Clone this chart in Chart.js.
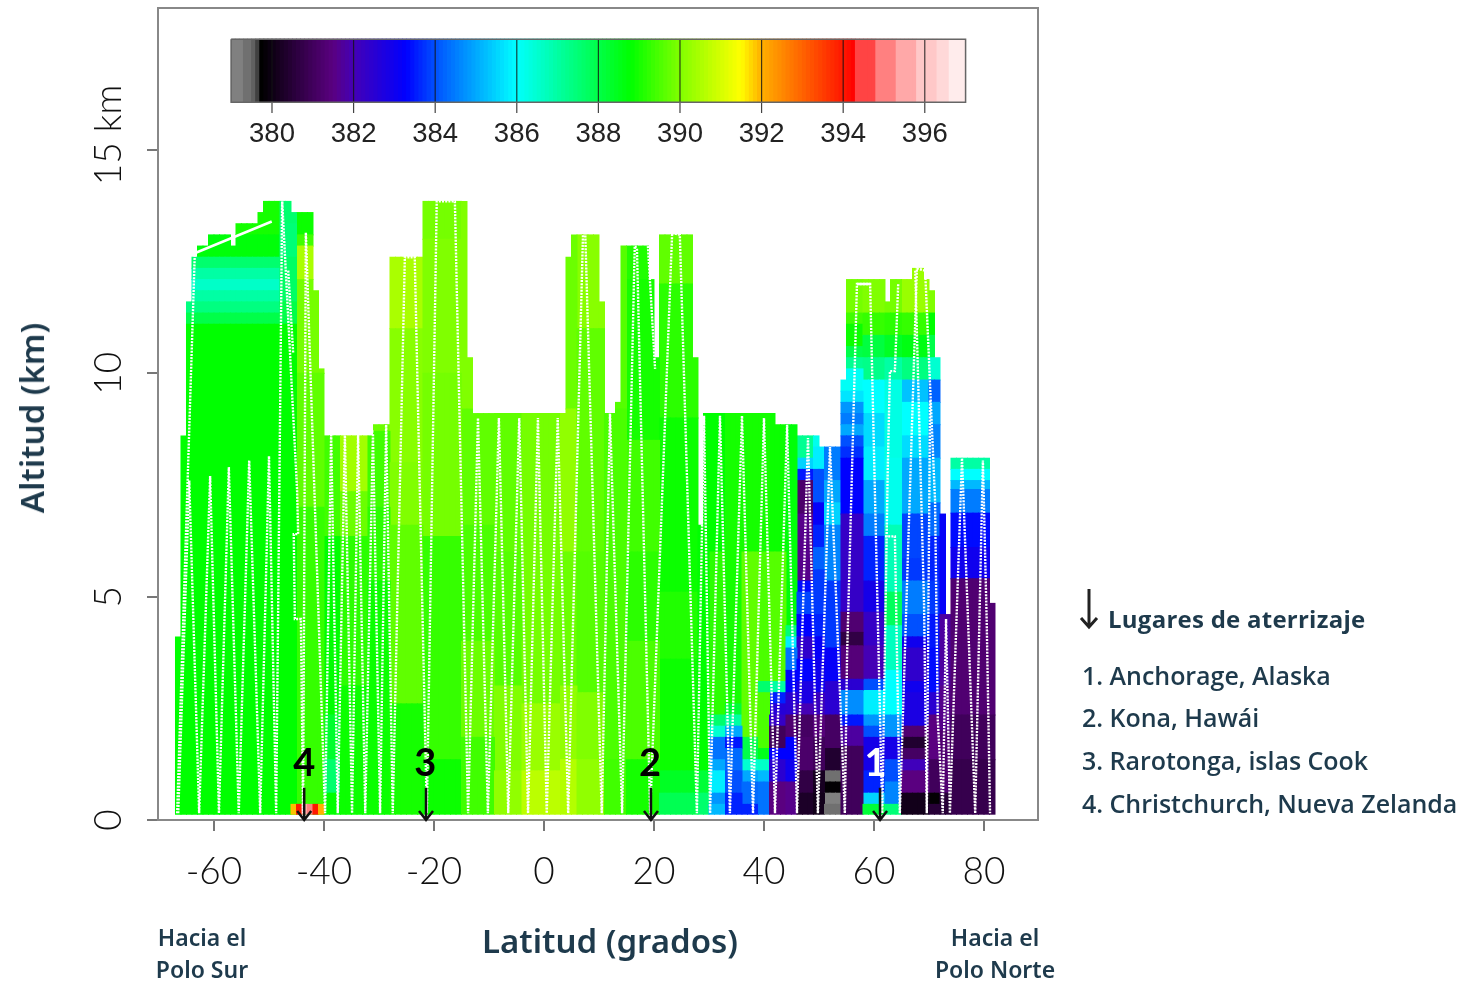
<!DOCTYPE html>
<html lang="es">
<head>
<meta charset="UTF-8">
<title>Altitud y latitud</title>
<script src="https://cdn.jsdelivr.net/npm/chart.js"></script>
<style>
    html, body { margin: 0; padding: 0; background: #fff; }
    #wrap { position: relative; width: 1468px; height: 982px; overflow: hidden; color: #1e3a4c; font-family: "Noto Sans", sans-serif; }
    canvas { position: absolute; left: 0; top: 0; }
    .t { position: absolute; white-space: nowrap; }
    .polo { font-size: 23px; line-height: 32px; text-align: center; width: 160px; font-weight: 600; }
    .axis { font-size: 33px; font-weight: 600; line-height: 40px; }
    .item { font-family: "Open Sans", sans-serif; font-size: 25px; font-weight: 600; line-height: 30px; left: 1082px; letter-spacing: -0.03px; }
</style>
</head>
<body>
<div id="wrap">
    <canvas id="grafico" width="1468" height="982"></canvas>
    <div class="t axis" style="left:482px; top:921px;">Latitud (grados)</div>
    <div class="t axis" style="left:32px; top:418px; transform: translate(-50%, -50%) rotate(-90deg);">Altitud (km)</div>
    <div class="t polo" style="left:122px; top:921px;">Hacia el<br>Polo Sur</div>
    <div class="t polo" style="left:915px; top:921px;">Hacia el<br>Polo Norte</div>
    <svg class="t" style="left:1078px; top:586px;" width="24" height="46">
        <path d="M11 3 V41 M3 32 L11 41 L19 32" fill="none" stroke="#222" stroke-width="3"/>
    </svg>
    <div class="t item" style="left:1108px; top:604px; font-size:24px; font-weight:700; letter-spacing:0.25px;">Lugares de aterrizaje</div>
    <div class="t item" style="top:660px;">1. Anchorage, Alaska</div>
    <div class="t item" style="top:702px;">2. Kona, Hawái</div>
    <div class="t item" style="top:745px;">3. Rarotonga, islas Cook</div>
    <div class="t item" style="top:788px;">4. Christchurch, Nueva Zelanda</div>
</div>
<script>
    // ejes
    const xTickValues = [-60, -40, -20, 0, 20, 40, 60, 80];
    const yTickValues = [0, 5, 10, 15];
    const barTickValues = [380, 382, 384, 386, 388, 390, 392, 394, 396];

    // columnas de la cortina: latitud central y altitud del tope (km)
    const colLat = [
        -66.5, -65.5, -64.5, -63.5, -62.5, -61.5, -60.5, -59.5, -58.5, -57.5,
        -56.5, -55.5, -54.5, -53.5, -52.5, -51.5, -50.5, -49.5, -48.5, -47.5,
        -46.5, -45.5, -44.5, -43.5, -42.5, -41.5, -40.5, -39.5, -38.5, -37.5,
        -36.5, -35.5, -34.5, -33.5, -32.5, -31.5, -30.5, -29.5, -28.5, -27.5,
        -26.5, -25.5, -24.5, -23.5, -22.5, -21.5, -20.5, -19.5, -18.5, -17.5,
        -16.5, -15.5, -14.5, -13.5, -12.5, -11.5, -10.5, -9.5, -8.5, -7.5,
        -6.5, -5.5, -4.5, -3.5, -2.5, -1.5, -0.5, 0.5, 1.5, 2.5,
        3.5, 4.5, 5.5, 6.5, 7.5, 8.5, 9.5, 10.5, 11.5, 12.5,
        13.5, 14.5, 15.5, 16.5, 17.5, 18.5, 19.5, 20.5, 21.5, 22.5,
        23.5, 24.5, 25.5, 26.5, 27.5, 28.5, 29.5, 30.5, 31.5, 32.5,
        33.5, 34.5, 35.5, 36.5, 37.5, 38.5, 39.5, 40.5, 41.5, 42.5,
        43.5, 44.5, 45.5, 46.5, 47.5, 48.5, 49.5, 50.5, 51.5, 52.5,
        53.5, 54.5, 55.5, 56.5, 57.5, 58.5, 59.5, 60.5, 61.5, 62.5,
        63.5, 64.5, 65.5, 66.5, 67.5, 68.5, 69.5, 70.5, 71.5, 72.5,
        73.5, 74.5, 75.5, 76.5, 77.5, 78.5, 79.5, 80.5, 81.5
    ];
    const colTop = [
        4.1, 8.6, 11.6, 12.6, 12.85, 12.85, 13.1, 13.1, 13.1, 13.1,
        12.85, 13.35, 13.35, 13.35, 13.35, 13.6, 13.85, 13.85, 13.85, 13.85,
        13.85, 13.6, 13.6, 13.6, 13.6, 11.85, 10.1, 8.6, 8.6, 8.6,
        8.6, 8.6, 8.6, 8.6, 8.6, 8.6, 8.85, 8.85, 8.85, 12.6,
        12.6, 12.6, 12.6, 12.6, 12.6, 13.85, 13.85, 13.85, 13.85, 13.85,
        13.85, 13.85, 13.85, 10.35, 9.1, 9.1, 9.1, 9.1, 9.1, 9.1,
        9.1, 9.1, 9.1, 9.1, 9.1, 9.1, 9.1, 9.1, 9.1, 9.1,
        9.1, 12.6, 13.1, 13.1, 13.1, 13.1, 13.1, 11.6, 9.1, 9.1,
        9.35, 12.85, 12.85, 12.85, 12.85, 12.85, 12.1, 10.35, 13.1, 13.1,
        13.1, 13.1, 13.1, 13.1, 10.35, 6.6, 9.1, 9.1, 9.1, 9.1,
        9.1, 9.1, 9.1, 9.1, 9.1, 9.1, 9.1, 9.1, 9.1, 8.85,
        8.85, 8.85, 8.85, 8.6, 8.6, 8.6, 8.6, 8.35, 8.35, 8.35,
        8.35, 9.85, 12.1, 12.1, 12.1, 12.1, 12.1, 12.1, 12.1, 11.6,
        12.1, 12.1, 12.1, 12.1, 12.35, 12.35, 12.1, 11.85, 10.35, 6.85,
        4.6, 8.1, 8.1, 8.1, 8.1, 8.1, 8.1, 8.1, 4.85
    ];
    const baseAlt = 0.13;

    // CO2 (ppm) por tramos de latitud: [tope km, valor] desde el suelo hacia arriba
    const fieldFrom = [-67, -48, -45, -40, -37, -32, -28, -22, -15, -9, -4, 3, 6, 11, 15, 21, 28, 30, 33, 36, 39, 41, 44, 46, 49, 51, 54, 58, 62, 65, 70, 72, 74];
    const fieldProfiles = [
        [[11.1, 388.8], [11.35, 388], [11.6, 387.4], [11.85, 387], [12.1, 386.6], [12.35, 387], [12.6, 387.6], [13.1, 388.7], [14, 389]],
        [[11.1, 388.8], [11.6, 388], [12.6, 387.7], [13.35, 387.5], [14, 387.6]],
        [[0.35, 389], [7, 389.3], [10, 389.7], [12.1, 389.9], [12.85, 390.5], [13.1, 389.4], [14, 388.9]],
        [[0.6, 388.8], [1.35, 387.6], [2.35, 388.3], [6.35, 388.8], [8.7, 389.4]],
        [[3, 388.9], [6.35, 389.2], [7.35, 389.8], [8.7, 390.4]],
        [[5.35, 388.9], [7, 389.2], [8.7, 389.4], [14, 389.8]],
        [[2.6, 389], [6.6, 389.7], [8, 390], [11, 390.1], [12.6, 390.5]],
        [[1.35, 388.9], [6.35, 389.3], [10, 389.9], [13, 390], [14, 389.9]],
        [[1.85, 389.4], [4, 389.8], [6.6, 389.5], [9.2, 389.7], [14, 390]],
        [[1.1, 390.2], [3, 390], [6, 389.6], [9.2, 389.7]],
        [[1.1, 390.7], [2.6, 390.3], [4, 389.9], [9.2, 389.9]],
        [[1.35, 390.6], [3, 390.2], [6, 389.8], [9.2, 390.2], [13.2, 389.8]],
        [[1.35, 390.2], [2.85, 390], [6, 389.6], [9.2, 389.7], [11, 389.7], [13.2, 390.1]],
        [[1.35, 389.4], [3, 389.5], [9.2, 389.5], [13.2, 389.6]],
        [[1.35, 389], [4, 389.5], [6, 389.2], [8.5, 389.4], [10.5, 389], [12.1, 389], [13.2, 389.1]],
        [[0.6, 387.9], [1.1, 388.4], [3.6, 388.9], [5.1, 389.1], [9, 388.9], [12, 389.2], [13.2, 389.7]],
        [[0.6, 387.6], [1.1, 388.2], [9.2, 388.8]],
        [[0.35, 385.2], [0.6, 384.8], [1.1, 385.8], [1.35, 385], [1.85, 384.4], [2.1, 386.5], [2.35, 387.6], [6, 389.2], [9.2, 388.8]],
        [[0.6, 383.6], [1.1, 384], [1.6, 384.3], [1.85, 383.5], [2.1, 385], [2.35, 387], [2.6, 388.2], [9.2, 389]],
        [[0.35, 383.6], [0.85, 384.3], [1.1, 385], [1.35, 386.5], [1.85, 388], [6, 389.7], [9.2, 389]],
        [[0.85, 384.4], [1.1, 385.2], [1.35, 386.6], [1.6, 388.5], [2.85, 389.5], [3.1, 387.6], [6, 389.5], [9.2, 389]],
        [[0.85, 381.5], [1.35, 382.5], [1.6, 383.3], [2.1, 381], [2.35, 382.3], [2.6, 382.6], [2.85, 383.6], [3.1, 387], [6, 389.6], [9.2, 388.9]],
        [[0.85, 381.6], [1.35, 383], [1.85, 383.3], [2.35, 381.3], [2.85, 382.5], [3.35, 383.3], [3.85, 384.4], [4.1, 385.8], [4.35, 387.5], [9, 388.7]],
        [[0.6, 380.3], [1.1, 380.7], [1.85, 381.2], [2.35, 381.1], [2.6, 382], [3.1, 382.8], [3.6, 383.3], [4.1, 382.4], [4.6, 383.3], [5.1, 383.9], [5.35, 383.4], [6.85, 381.6], [7.6, 381.2], [7.85, 383.5], [8.1, 385.5], [8.7, 387.2]],
        [[0.6, 380.1], [1.1, 380.2], [1.85, 381], [2.35, 381.4], [2.85, 382.2], [3.6, 383], [4.1, 383.2], [4.6, 383.6], [5.6, 383.8], [6.1, 384.2], [6.6, 383.6], [7.1, 383.2], [7.85, 384], [8.35, 385.8], [8.7, 386.2]],
        [[0.35, 379.3], [0.6, 379.2], [0.85, 379.8], [1.1, 379.3], [1.6, 380.4], [2.35, 381.1], [3.1, 382.5], [3.85, 383.2], [5.35, 383.8], [6.6, 384.6], [7.1, 385.5], [7.6, 385], [8.5, 384.5]],
        [[1.65, 381], [2.1, 381.8], [2.35, 383.5], [2.9, 384.7], [3.15, 382.5], [3.9, 381.4], [4.2, 380.7], [4.65, 381.3], [6.85, 382.3], [8.1, 383.3], [8.35, 383.7], [8.6, 384], [8.85, 385], [9.1, 384.5], [9.35, 384.8], [9.6, 385.7], [10.1, 386.1], [10.35, 387.2], [10.6, 388], [11.1, 388.9], [11.35, 389.4], [12.2, 389.9]],
        [[0.35, 388.2], [0.6, 385.5], [1.1, 383.6], [1.85, 382.9], [2.1, 384], [2.35, 384.8], [2.9, 385.8], [3.15, 384], [3.9, 382], [4.65, 382.3], [5.35, 382.9], [6.35, 383.6], [6.85, 384.5], [7.6, 385], [8.35, 385.8], [9.1, 385.6], [9.85, 386], [10.35, 387.3], [10.85, 388.1], [11.35, 389.3], [12.2, 390]],
        [[0.35, 387.5], [0.85, 384.6], [1.35, 384], [1.85, 382.9], [2.35, 384.8], [3.35, 386], [4.35, 386.7], [5.1, 387.8], [6.6, 386.8], [8.1, 386.2], [9.85, 386.3], [10.35, 387], [10.85, 388.4], [11.35, 389.2], [12.2, 389.9]],
        [[0.6, 380.1], [1.1, 381.5], [1.35, 382.1], [1.6, 381.1], [1.85, 380.4], [2.1, 381.3], [2.85, 382.8], [3.1, 383], [3.85, 382.4], [4.1, 383], [4.6, 384], [5.35, 384.5], [5.85, 383.8], [6.85, 383.9], [8.1, 385], [8.6, 385.6], [9.35, 386], [9.85, 385.3], [10.35, 387.4], [10.85, 388.6], [11.35, 389.3], [12.4, 390.3]],
        [[0.35, 380.5], [0.6, 379.8], [1.35, 381], [2.35, 381.5], [2.85, 382.5], [3.85, 383.4], [4.6, 383.5], [5.35, 383.8], [6.35, 383.6], [7.1, 384.3], [8.1, 385.2], [8.85, 384.6], [9.35, 385], [9.85, 384.2], [10.35, 386.5], [10.85, 388], [11.35, 388.8], [12.4, 390]],
        [[0.6, 380.5], [2, 381.3], [3, 381.6], [4.6, 381.8], [6.85, 383.2]],
        [[1.35, 380.8], [2.35, 381], [5.4, 381.3], [6.1, 383], [6.87, 383.4], [7.4, 384.5], [7.6, 385.2], [7.85, 386], [8.2, 387]]
    ];

    // mancha caliente sobre Christchurch
    const hotLat = [-45.5, -44.5, -43.5, -42.5, -41.5, -40.5];
    const hotValue = [391.9, 393.9, 395.5, 395, 394, 392];
    const hotTop = 0.35;

    // trayectoria del avion, null corta la linea
    const flightLat = [
        -66.5, -64.5, -62.7, -60.7, -59.1, -57.3, -55.5, -53.6, -51.6, -50, -48.7, -47.6, -44.9, -44.7, -45.5, -45.3, -44.2, -43.8, -43.3, -39.8,
        -38.7, -37.5, -36.2, -34.9, -33.8, -32.5, -31.1, -29.8, -28.7, -27.5, -25.3, -23.5, -21.3, -19.5, -16.2, -13.8, -12, -10.2, -8.2, -6.5,
        -4.5, -2.9, -1.1, 0.5, 2.5, 4.4, 7.1, 7.5, 10.5, 12, 14.2, 16.5, 16.9, 19.3, 23.3, 24.7, 27.8, 29.1, 30.2, 32,
        33.8, 36, 38, 40, 42, 44.2, 46, 48, 49.8, 52, 54.7, 55.1, 56.9, 59.3, 61.5, 62.5, 62.9, 63.8, 64.4, null,
        62, 63.8, 64.7, 67.8, 69.3, 71.1, 71.6, 72.5, 73.1, 73.8, 76, 78.4, 79.8, 80.5, 81.1, null,
        67.5, 69.1, 69.6, 70.2, null,
        -46.5, -45.6, null,
        18.9, 20.2, null,
        -66.7, -63.5
    ];
    const flightAlt = [
        0.15, 7.6, 0.15, 7.7, 0.15, 7.9, 0.15, 8.05, 0.15, 8.15, 0.15, 13.85, 7.4, 6.4, 6.4, 4.5, 4.5, 0.15, 13.15, 0.15,
        8.65, 0.15, 8.65, 0.15, 8.65, 0.15, 8.65, 0.15, 8.85, 0.15, 12.6, 12.6, 0.15, 13.85, 13.85, 0.15, 9, 0.15, 9, 0.15,
        9, 0.15, 9, 0.15, 9, 0.15, 13.15, 13.15, 0.15, 9.1, 0.15, 12.85, 12.8, 0.15, 13.15, 13.1, 0.15, 9.05, 0.15, 9.05,
        0.15, 9.05, 0.15, 9, 0.15, 8.85, 0.15, 8.55, 0.15, 8.35, 0.15, 3.65, 12, 12, 0.15, 7.85, 10.05, 10.05, 12, null,
        6.35, 6.35, 0.15, 12.35, 12.3, 7.15, 2.25, 0.15, 4.5, 0.15, 8.1, 0.15, 8.05, 4.4, 0.15, null,
        12.3, 4.85, 0.15, 9.4, null,
        12.3, 10.45, null,
        12.85, 10.1, null,
        0.15, 12.65
    ];
    // tramos a nivel, linea continua
    const levelLat = [-63.3, -49.5, null, -39.8, -31, null, 56.9, 59.3];
    const levelAlt = [12.7, 13.4, null, 8.7, 8.7, null, 12, 12];

    // lugares de aterrizaje
    const siteLat = [61.1, 19.45, -21.45, -43.6];
    const siteLabel = ['1', '2', '3', '4'];
    const siteLabelLat = [60.3, 19.3, -21.6, -43.6];
    const siteColor = ['#ffffff', '#000000', '#000000', '#000000'];

    // escala de color
    const cmapValue = [379, 379.25, 379.26, 379.5, 379.51, 379.63, 379.64, 379.74, 379.75, 381.5, 382, 383.3, 384, 386, 388.8, 390, 391.5, 392, 394.1, 394.29, 394.3, 394.79, 394.8, 395.29, 395.3, 395.79, 395.8, 396.29, 396.3, 396.64, 396.65, 397];
    const cmapColor = ['#808080', '#808080', '#707070', '#707070', '#606060', '#606060', '#404040', '#404040', '#000000', '#5a0080', '#4500b5', '#0000ff', '#0050ff', '#00ffff', '#00ff00', '#80ff00', '#ffff00', '#ffb000', '#ff1000', '#ff0000', '#ff4444', '#ff4444', '#ff8080', '#ff8080', '#ffa8a8', '#ffa8a8', '#ffc8c8', '#ffc8c8', '#ffd8d8', '#ffd8d8', '#ffecec', '#ffecec'];
    const barFrom = 379;
    const barTo = 397;
    const barAltTop = 17.48;
    const barAltBottom = 16.07;
    const barAltTick = 15.83;
    const barAltLabel = 15.36;

    function hexRgb(h) {
        return [parseInt(h.slice(1, 3), 16), parseInt(h.slice(3, 5), 16), parseInt(h.slice(5, 7), 16)];
    }

    function colorOf(v) {
        if (v <= cmapValue[0]) return cmapColor[0];
        for (let i = 1; i < cmapValue.length; i++) {
            if (v <= cmapValue[i]) {
                const t = (v - cmapValue[i - 1]) / (cmapValue[i] - cmapValue[i - 1]);
                const a = hexRgb(cmapColor[i - 1]);
                const b = hexRgb(cmapColor[i]);
                return `rgb(${a.map((c, k) => Math.round(c + (b[k] - c) * t)).join(',')})`;
            }
        }
        return cmapColor[cmapColor.length - 1];
    }

    function profileFor(lat) {
        let p = fieldProfiles[0];
        fieldFrom.forEach((f, i) => {
            if (lat >= f) p = fieldProfiles[i];
        });
        return p;
    }

    const barStyle = {
        type: 'bar',
        grouped: false,
        barPercentage: 1,
        categoryPercentage: 1,
        borderWidth: 0,
        inflateAmount: 0.5,
        order: 5
    };

    // una serie por cada capa de altitud
    const datasets = [];
    const maxRuns = Math.max(...fieldProfiles.map(p => p.length));
    for (let r = 0; r < maxRuns; r++) {
        const data = [];
        const colors = [];
        colLat.forEach((lat, c) => {
            const p = profileFor(lat);
            if (r >= p.length) return;
            const lo = r === 0 ? baseAlt : p[r - 1][0];
            const hi = Math.min(p[r][0], colTop[c]);
            if (lo >= hi) return;
            data.push({ x: lat, y: [lo, hi] });
            colors.push(colorOf(p[r][1]));
        });
        datasets.push({ ...barStyle, data: data, backgroundColor: colors });
    }

    datasets.push({
        ...barStyle,
        order: 4,
        data: hotLat.map(lat => ({ x: lat, y: [baseAlt, hotTop] })),
        backgroundColor: hotValue.map(colorOf)
    });

    // barra de color
    const cbarCells = [];
    for (let v = barFrom + 0.05; v < barTo; v += 0.1) cbarCells.push(v);
    datasets.push({
        ...barStyle,
        xAxisID: 'xBar',
        data: cbarCells.map(v => ({ x: v, y: [barAltBottom, barAltTop] })),
        backgroundColor: cbarCells.map(colorOf)
    });
    datasets.push({
        type: 'line',
        xAxisID: 'xBar',
        data: [[barFrom, barAltTop], [barTo, barAltTop], [barTo, barAltBottom], [barFrom, barAltBottom], [barFrom, barAltTop]].map(p => ({ x: p[0], y: p[1] })),
        borderColor: '#666',
        borderWidth: 1.5,
        pointRadius: 0,
        order: 3
    });
    const tickPts = [];
    barTickValues.forEach(v => {
        tickPts.push({ x: v, y: barAltTop }, { x: v, y: barAltTick }, { x: null, y: null });
    });
    datasets.push({
        type: 'line',
        xAxisID: 'xBar',
        data: tickPts,
        borderColor: 'rgba(20,20,20,0.8)',
        borderWidth: 1.2,
        pointRadius: 0,
        spanGaps: false,
        order: 3
    });

    datasets.push({
        type: 'line',
        data: flightLat.map((lat, i) => ({ x: lat, y: flightAlt[i] })),
        borderColor: '#ffffff',
        borderWidth: 2.4,
        borderDash: [2, 1.2],
        pointRadius: 0,
        tension: 0,
        spanGaps: false,
        order: 2
    });
    datasets.push({
        type: 'line',
        data: levelLat.map((lat, i) => ({ x: lat, y: levelAlt[i] })),
        borderColor: '#ffffff',
        borderWidth: 2.5,
        pointRadius: 0,
        tension: 0,
        spanGaps: false,
        order: 2
    });

    // marco del grafico, rotulos de la barra y flechas de aterrizaje
    const extras = {
        id: 'extras',
        afterDatasetsDraw(chart) {
            const { ctx, chartArea, scales } = chart;
            ctx.save();
            ctx.strokeStyle = '#888';
            ctx.lineWidth = 2;
            ctx.strokeRect(chartArea.left, chartArea.top, chartArea.width, chartArea.height);

            ctx.fillStyle = '#222';
            ctx.font = '27.5px "Liberation Sans"';
            ctx.textAlign = 'center';
            ctx.textBaseline = 'middle';
            barTickValues.forEach(v => {
                ctx.fillText(String(v), scales.xBar.getPixelForValue(v), scales.y.getPixelForValue(barAltLabel));
            });

            ctx.lineWidth = 2.5;
            ctx.strokeStyle = '#111';
            ctx.font = 'bold 38px Lato';
            siteLat.forEach((lat, i) => {
                const x = scales.x.getPixelForValue(lat);
                const yTop = scales.y.getPixelForValue(0.72);
                const yEnd = scales.y.getPixelForValue(0);
                ctx.beginPath();
                ctx.moveTo(x, yTop);
                ctx.lineTo(x, yEnd);
                ctx.moveTo(x - 7, yEnd - 9);
                ctx.lineTo(x, yEnd);
                ctx.lineTo(x + 7, yEnd - 9);
                ctx.stroke();
                ctx.fillStyle = siteColor[i];
                ctx.fillText(siteLabel[i], scales.x.getPixelForValue(siteLabelLat[i]), scales.y.getPixelForValue(1.26));
            });
            ctx.restore();
        }
    };

    function clearMargins(s) {
        s.paddingLeft = 0;
        s.paddingRight = 0;
        s.paddingTop = 0;
        s.paddingBottom = 0;
    }

    new Chart(document.getElementById('grafico'), {
        type: 'bar',
        data: { datasets: datasets },
        plugins: [extras],
        options: {
            responsive: false,
            animation: false,
            layout: { padding: { left: 0, right: 430, top: 8, bottom: 82 } },
            plugins: { legend: { display: false }, tooltip: { enabled: false } },
            scales: {
                x: {
                    type: 'linear',
                    offset: false,
                    min: -70.18,
                    max: 89.82,
                    afterBuildTicks: s => { s.ticks = xTickValues.map(v => ({ value: v })); },
                    afterFit: s => { s.height = 80; clearMargins(s); },
                    grid: { offset: false, drawOnChartArea: false, color: '#777', lineWidth: 2, tickLength: 11 },
                    border: { color: '#777', width: 2 },
                    ticks: {
                        autoSkip: false,
                        maxRotation: 0,
                        padding: 19,
                        color: '#111',
                        font: { family: 'Lato', weight: 300, size: 37 }
                    }
                },
                xBar: {
                    type: 'linear',
                    display: false,
                    offset: false,
                    min: 377.206,
                    max: 398.775,
                    grid: { offset: false }
                },
                y: {
                    min: 0,
                    max: 18.18,
                    afterBuildTicks: s => { s.ticks = yTickValues.map(v => ({ value: v })); },
                    afterFit: s => { s.width = 158; clearMargins(s); },
                    grid: { drawOnChartArea: false, color: '#777', lineWidth: 2, tickLength: 11 },
                    border: { color: '#777', width: 2 },
                    ticks: {
                        autoSkip: false,
                        minRotation: 90,
                        maxRotation: 90,
                        crossAlign: 'center',
                        padding: -27,
                        color: '#111',
                        font: { family: 'Lato', weight: 300, size: 37 },
                        callback: v => (v === 15 ? '\u00a0\u00a0\u00a015 km' : String(v))
                    }
                }
            }
        }
    });
</script>
</body>
</html>
